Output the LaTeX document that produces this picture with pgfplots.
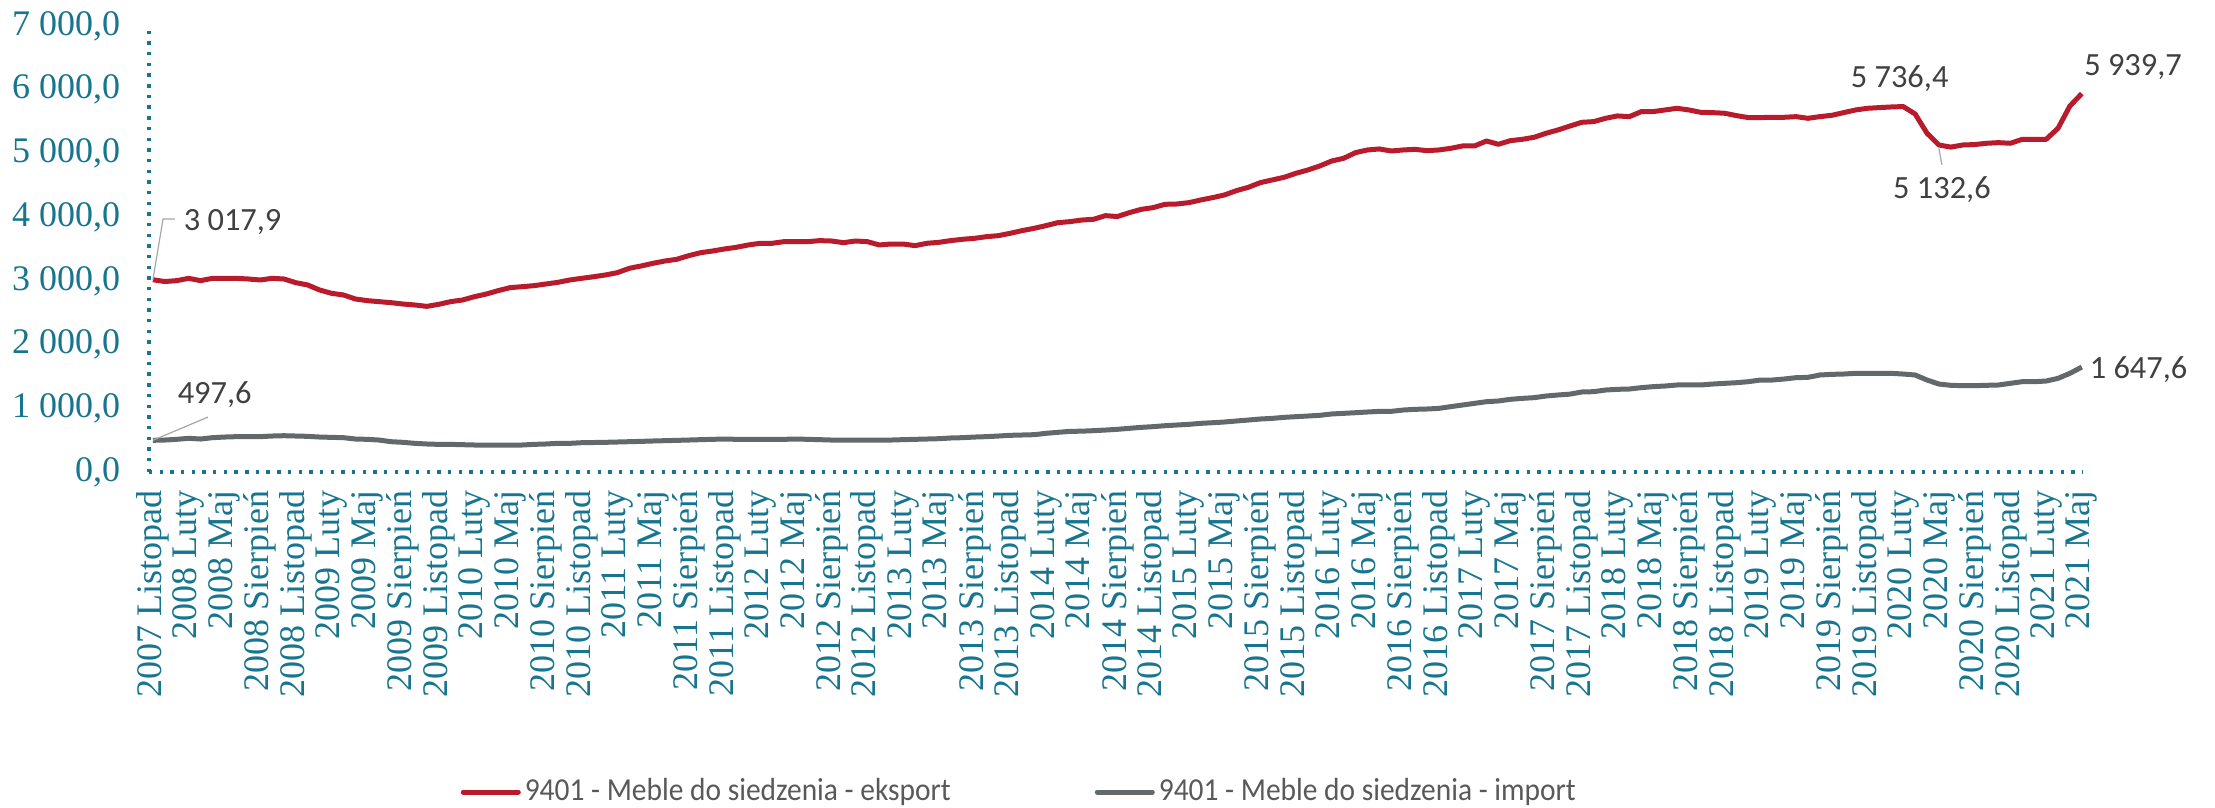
\documentclass[border=0pt]{standalone}
\usepackage{fontspec}
\setmainfont{Carlito}
\newfontfamily\tickfont{Liberation Serif}
\newfontfamily\legfont[FakeStretch=0.92]{Carlito}
\usepackage{pgfplots}
\usepackage{pgfplotstable}
\pgfplotsset{compat=1.18}

\definecolor{osie}{RGB}{23,117,143}
\definecolor{eksred}{RGB}{183,27,44}
\definecolor{impgray}{RGB}{99,104,107}
\definecolor{etykieta}{RGB}{64,64,64}
\definecolor{legtxt}{RGB}{89,89,89}

% i = miesiac od 2007 Listopad (0) do 2021 Maj (162)
\pgfplotstableread{
i eks imp
0 3017.9 497.6
1 2990 502
2 3004 513
3 3040 529
4 3004 518
5 3040 539
6 3040 549
7 3040 555
8 3030 555
9 3014 555
10 3040 565
11 3030 570
12 2972 565
13 2936 560
14 2857 549
15 2805 544
16 2779 539
17 2716 518
18 2690 513
19 2674 502
20 2658 476
21 2637 466
22 2622 450
23 2600 440
24 2632 434
25 2674 434
26 2700 429
27 2752 424
28 2794 424
29 2847 424
30 2894 424
31 2909 424
32 2925 434
33 2951 440
34 2977 450
35 3014 450
36 3040 460
37 3065 463
38 3093 466
39 3129 471
40 3197 476
41 3234 481
42 3276 487
43 3312 492
44 3339 497
45 3396 502
46 3443 508
47 3469 513
48 3501 518
49 3527 513
50 3564 513
51 3590 513
52 3590 513
53 3616 513
54 3616 518
55 3616 513
56 3632 508
57 3626 502
58 3600 502
59 3626 502
60 3616 502
61 3564 502
62 3579 502
63 3579 508
64 3553 513
65 3590 518
66 3605 523
67 3632 534
68 3653 539
69 3668 549
70 3694 555
71 3710 565
72 3747 576
73 3789 581
74 3825 586
75 3867 607
76 3914 623
77 3930 638
78 3955 641
79 3967 649
80 4024 659
81 4010 670
82 4071 686
83 4123 701
84 4150 712
85 4202 727
86 4207 738
87 4228 748
88 4270 764
89 4307 774
90 4349 785
91 4417 801
92 4469 816
93 4542 832
94 4584 842
95 4626 858
96 4689 869
97 4741 879
98 4804 890
99 4882 911
100 4924 921
101 5013 931
102 5055 942
103 5071 952
104 5039 952
105 5055 973
106 5065 984
107 5044 989
108 5055 999
109 5081 1026
110 5118 1052
111 5118 1078
112 5196 1104
113 5144 1115
114 5201 1141
115 5222 1156
116 5254 1167
117 5317 1193
118 5369 1209
119 5430 1222
120 5489 1256
121 5500 1261
122 5552 1287
123 5589 1298
124 5578 1303
125 5657 1324
126 5657 1340
127 5683 1350
128 5709 1366
129 5683 1366
130 5646 1366
131 5641 1381
132 5631 1392
133 5594 1402
134 5563 1418
135 5563 1444
136 5568 1444
137 5568 1460
138 5578 1481
139 5552 1486
140 5578 1523
141 5599 1533
142 5641 1538
143 5683 1549
144 5709 1549
145 5720 1549
146 5730 1549
147 5736.4 1538
148 5620 1523
149 5317 1444
150 5132.6 1381
151 5100 1361
152 5133 1355
153 5140 1355
154 5160 1361
155 5170 1366
156 5160 1392
157 5222 1418
158 5222 1418
159 5222 1428
160 5395 1470
161 5746 1549
162 5939.7 1647.6
}\meble

\begin{document}
\begin{tikzpicture}
\path[use as bounding box] (-37.25pt,-83.75pt) rectangle (516.5pt,118pt);
\begin{axis}[
    scale only axis,
    width=483.5pt, height=111.5pt,
    xmin=-0.33, xmax=162.1,
    ymin=0, ymax=7000,
    axis lines*=left,
    axis line style={osie, line width=0.85pt, line cap=butt, dash pattern=on 0.85pt off 1.82pt},
    major tick length=0pt,
    clip=false,
    xtick={0,3,...,162},
    xticklabels={2007 Listopad,
      2008 Luty,2008 Maj,2008 Sierpień,2008 Listopad,
      2009 Luty,2009 Maj,2009 Sierpień,2009 Listopad,
      2010 Luty,2010 Maj,2010 Sierpień,2010 Listopad,
      2011 Luty,2011 Maj,2011 Sierpień,2011 Listopad,
      2012 Luty,2012 Maj,2012 Sierpień,2012 Listopad,
      2013 Luty,2013 Maj,2013 Sierpień,2013 Listopad,
      2014 Luty,2014 Maj,2014 Sierpień,2014 Listopad,
      2015 Luty,2015 Maj,2015 Sierpień,2015 Listopad,
      2016 Luty,2016 Maj,2016 Sierpień,2016 Listopad,
      2017 Luty,2017 Maj,2017 Sierpień,2017 Listopad,
      2018 Luty,2018 Maj,2018 Sierpień,2018 Listopad,
      2019 Luty,2019 Maj,2019 Sierpień,2019 Listopad,
      2020 Luty,2020 Maj,2020 Sierpień,2020 Listopad,
      2021 Luty,2021 Maj},
    ytick={0,1000,...,7000},
    ticklabel style={font=\tickfont\fontsize{9}{10}\selectfont, text=osie},
    xticklabel style={rotate=90, anchor=east, inner xsep=4.5pt, inner ysep=0pt},
    yticklabel style={anchor=east, inner xsep=7pt, inner ysep=0pt,
      /pgf/number format/.cd, fixed, fixed zerofill, precision=1, use comma, 1000 sep={\ }, assume math mode=true},
    legend columns=2,
    legend cell align=left,
    legend style={draw=none, fill=none, at={(0.1608,-0.7175)}, anchor=west,
      inner sep=0pt, font=\legfont\fontsize{8}{9.6}\selectfont, text=legtxt,
      nodes={inner xsep=1pt, inner ysep=0pt},
      /tikz/every even column/.append style={column sep=35pt}},
    legend image code/.code={\draw[#1, line cap=round] (0pt,0pt) -- (13.75pt,0pt);},
]
\addplot[eksred, line width=1.25pt, line join=round] table[x=i, y=eks] {\meble};
\addlegendentry{9401 - Meble do siedzenia - eksport}
\addplot[impgray, line width=1.25pt, line join=round] table[x=i, y=imp] {\meble};
\addlegendentry{9401 - Meble do siedzenia - import}

\begin{scope}[every node/.style={font=\fontsize{8.1}{9}\selectfont, text=etykieta, inner sep=0pt}]
\draw[gray!70, line width=0.3pt] (axis cs:0,3017.9) -- (axis cs:0.85,3972) -- (axis cs:1.85,3972);
\node[anchor=west] at (axis cs:2.53,3925) {3 017,9};
\draw[gray!70, line width=0.3pt] (axis cs:0,497.6) -- (axis cs:4.63,863);
\node[anchor=west] at (axis cs:2.02,1209) {497,6};
\node at (axis cs:146.7,6170) {5 736,4};
\draw[gray!70, line width=0.3pt] (axis cs:150,5080) -- (axis cs:150.25,4819);
\node at (axis cs:150.25,4427) {5 132,6};
\node at (axis cs:166.3,6358) {5 939,7};
\node[anchor=west] at (axis cs:162.6,1601) {1 647,6};
\end{scope}
\end{axis}
\end{tikzpicture}
\end{document}
